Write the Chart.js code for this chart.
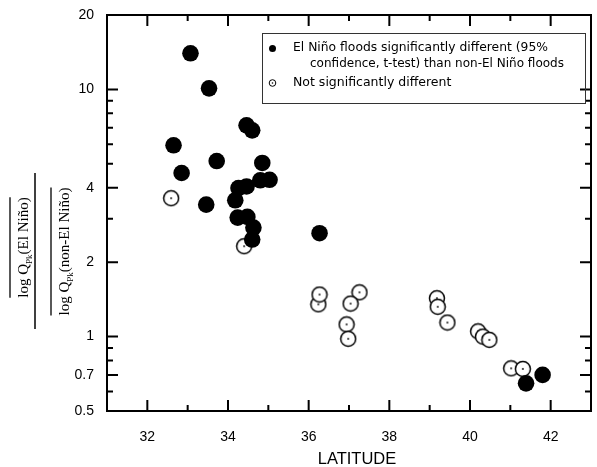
<!DOCTYPE html>
<html>
<head>
<meta charset="utf-8">
<script src="https://cdn.jsdelivr.net/npm/chart.js@4"></script>
<style>
  html, body { margin: 0; padding: 0; background: #fff; overflow: hidden; }
  #wrap { position: absolute; left: 0; top: 0; width: 600px; height: 467px; }
</style>
</head>
<body>
<div id="wrap"><canvas id="chart"></canvas></div>
<script>
// El Niño floods significantly different (filled)
const sigLat   = [33.07, 33.53, 34.46, 34.60, 32.65, 33.72, 34.85, 32.85, 34.80, 35.03, 34.26, 34.46, 34.18, 33.46, 34.24, 34.48, 34.63, 34.60, 36.27, 41.39, 41.80];
const sigRatio = [14.0, 10.1, 7.16, 6.83, 5.94, 5.13, 5.04, 4.59, 4.29, 4.31, 3.99, 4.05, 3.56, 3.42, 3.03, 3.05, 2.76, 2.47, 2.62, 0.647, 0.70];

// Not significantly different (open)
const nsLat   = [32.59, 34.40, 36.24, 36.27, 37.26, 37.04, 36.94, 36.98, 39.18, 39.20, 39.44, 40.20, 40.32, 40.48, 41.02, 41.31];
const nsRatio = [3.63, 2.32, 1.35, 1.48, 1.51, 1.36, 1.12, 0.98, 1.43, 1.32, 1.14, 1.05, 1.00, 0.97, 0.744, 0.74];

const xTicks = [32, 34, 36, 38, 40, 42];
const xMinor = [33, 35, 37, 39, 41];
const yTicks = [0.5, 0.7, 1, 2, 4, 10, 20];
const yTickLabels = ['0.5', '0.7', '1', '2', '4', '10', '20'];
const yMinor = [0.6, 0.8, 0.9, 3, 5, 6, 7, 8, 9];

const legendLabels = [
    'El Niño floods significantly different (95%',
    'confidence, t-test) than non-El Niño floods',
    'Not significantly different'
];

// open circle with a dot in the middle
function openMarker(r) {
    const c = document.createElement('canvas');
    const s = Math.ceil(r * 2 + 3);
    c.width = s; c.height = s;
    const g = c.getContext('2d');
    g.beginPath();
    g.arc(s / 2, s / 2, r, 0, Math.PI * 2);
    g.fillStyle = '#fff';
    g.fill();
    g.lineWidth = 1.5;
    g.strokeStyle = '#000';
    g.stroke();
    g.beginPath();
    g.arc(s / 2, s / 2, 0.9, 0, Math.PI * 2);
    g.fillStyle = '#000';
    g.fill();
    return c;
}

function drawRotated(ctx, parts, xBase, yCenter) {
    ctx.save();
    ctx.translate(xBase, yCenter);
    ctx.rotate(-Math.PI / 2);
    let total = 0;
    parts.forEach(p => {
        ctx.font = p.size + 'px "Liberation Serif"';
        p.w = ctx.measureText(p.text).width;
        total += p.w;
    });
    let cx = -total / 2;
    ctx.textBaseline = 'alphabetic';
    ctx.textAlign = 'left';
    ctx.fillStyle = '#000';
    parts.forEach(p => {
        ctx.font = p.size + 'px "Liberation Serif"';
        ctx.fillText(p.text, cx, p.dy);
        cx += p.w;
    });
    ctx.restore();
    return total;
}

const decor = {
    id: 'decor',
    afterDraw(chart) {
        const { ctx, chartArea: a, scales: { x, y } } = chart;
        ctx.save();
        ctx.strokeStyle = '#000';
        ctx.lineWidth = 2;
        ctx.strokeRect(a.left, a.top, a.right - a.left, a.bottom - a.top);

        // inward ticks on all four sides
        ctx.beginPath();
        const tick = (x1, y1, x2, y2) => { ctx.moveTo(x1, y1); ctx.lineTo(x2, y2); };
        xTicks.forEach(v => {
            const p = x.getPixelForValue(v);
            tick(p, a.bottom, p, a.bottom - 11);
            tick(p, a.top, p, a.top + 11);
        });
        xMinor.forEach(v => {
            const p = x.getPixelForValue(v);
            tick(p, a.bottom, p, a.bottom - 6);
            tick(p, a.top, p, a.top + 6);
        });
        yTicks.forEach(v => {
            const p = y.getPixelForValue(v);
            tick(a.left, p, a.left + 11, p);
            tick(a.right, p, a.right - 11, p);
        });
        yMinor.forEach(v => {
            const p = y.getPixelForValue(v);
            tick(a.left, p, a.left + 6, p);
            tick(a.right, p, a.right - 6, p);
        });
        ctx.stroke();

        // x axis title
        ctx.fillStyle = '#000';
        ctx.font = '16.5px "Liberation Sans"';
        ctx.textAlign = 'center';
        ctx.textBaseline = 'middle';
        ctx.fillText('LATITUDE', 357, 459);

        // y axis title: mean ratio
        const num = drawRotated(ctx, [
            { text: 'log Q', size: 15, dy: 0 },
            { text: 'Pk', size: 9, dy: 4 },
            { text: '(El Niño)', size: 15, dy: 0 }
        ], 28, 247.5);
        const den = drawRotated(ctx, [
            { text: 'log Q', size: 15, dy: 0 },
            { text: 'Pk', size: 9, dy: 4 },
            { text: '(non-El Niño)', size: 15, dy: 0 }
        ], 69, 251.5);
        ctx.lineWidth = 1.3;
        ctx.beginPath();
        tick(10, 247.5 - num / 2, 10, 247.5 + num / 2);
        tick(51, 251.5 - den / 2, 51, 251.5 + den / 2);
        ctx.stroke();
        ctx.lineWidth = 1.5;
        ctx.beginPath();
        tick(35, 173, 35, 329);
        ctx.stroke();

        // legend box
        ctx.lineWidth = 1;
        ctx.strokeStyle = '#333';
        ctx.strokeRect(262.5, 33.5, 323, 70);
        ctx.fillStyle = '#000';
        ctx.beginPath();
        ctx.arc(272.5, 48.5, 3.5, 0, Math.PI * 2);
        ctx.fill();
        ctx.strokeStyle = '#000';
        ctx.beginPath();
        ctx.arc(272.5, 83, 3.3, 0, Math.PI * 2);
        ctx.stroke();
        ctx.beginPath();
        ctx.arc(272.5, 83, 0.8, 0, Math.PI * 2);
        ctx.fill();
        ctx.font = '12.5px "DejaVu Sans"';
        ctx.textAlign = 'left';
        ctx.textBaseline = 'middle';
        ctx.fillText(legendLabels[0], 293, 48, 255);
        ctx.fillText(legendLabels[1], 310, 64, 254);
        ctx.fillText(legendLabels[2], 293, 83);
        ctx.restore();
    }
};

const toPoints = (xs, ys) => xs.map((v, i) => ({ x: v, y: ys[i] }));

new Chart(document.getElementById('chart'), {
    type: 'scatter',
    data: {
        datasets: [{
            label: legendLabels[0],
            data: toPoints(sigLat, sigRatio),
            pointStyle: 'circle',
            pointRadius: 8.3,
            backgroundColor: '#000',
            borderWidth: 0,
            order: 0
        }, {
            label: legendLabels[2],
            data: toPoints(nsLat, nsRatio),
            pointStyle: openMarker(7.5),
            pointRadius: 8,
            order: 1
        }]
    },
    options: {
        responsive: true,
        maintainAspectRatio: false,
        animation: false,
        events: [],
        layout: { padding: { left: 0, top: 15, right: 0, bottom: 0 } },
        plugins: {
            legend: { display: false },
            tooltip: { enabled: false }
        },
        scales: {
            x: {
                type: 'linear',
                min: 31,
                max: 43,
                grid: { display: false },
                border: { display: false },
                afterBuildTicks: s => { s.ticks = xTicks.map(v => ({ value: v })); },
                afterFit: s => { s.height = 56; },
                ticks: {
                    autoSkip: false,
                    maxRotation: 0,
                    padding: 10,
                    color: '#000',
                    font: { family: 'Liberation Sans', size: 14 },
                    callback: v => String(v)
                }
            },
            y: {
                type: 'logarithmic',
                min: 0.5,
                max: 20,
                grid: { display: false },
                border: { display: false },
                afterBuildTicks: s => { s.ticks = yTicks.map(v => ({ value: v })); },
                afterFit: s => { s.width = 107; },
                ticks: {
                    autoSkip: false,
                    padding: 5,
                    color: '#000',
                    font: { family: 'Liberation Sans', size: 14 },
                    callback: (v, i) => yTickLabels[i]
                }
            }
        }
    },
    plugins: [decor]
});
</script>
</body>
</html>
